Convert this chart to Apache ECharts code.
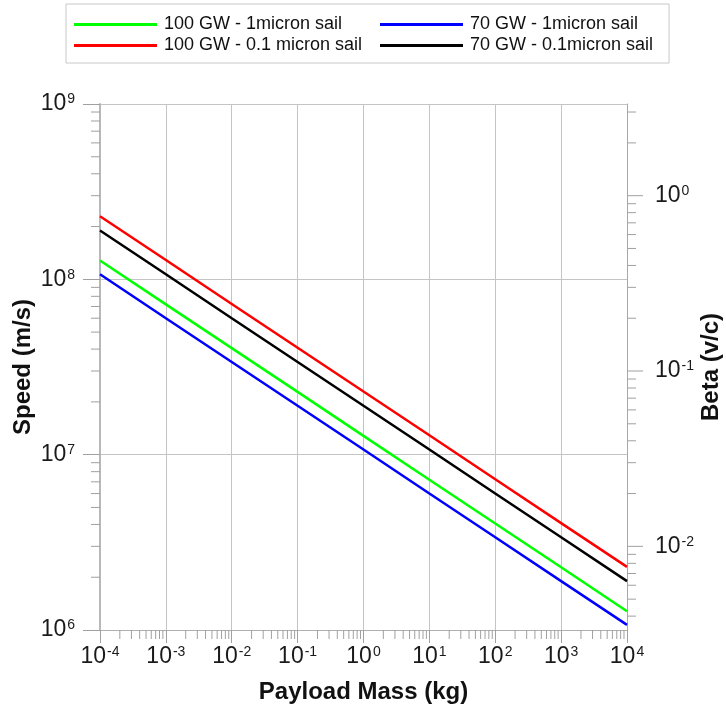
<!DOCTYPE html>
<html>
<head>
<meta charset="utf-8">
<script src="https://cdn.jsdelivr.net/npm/echarts@6/dist/echarts.min.js"></script>
<style>
  html, body { margin: 0; padding: 0; background: #ffffff; }
  #chart { width: 726px; height: 706px; }
</style>
</head>
<body>
<div id="chart"></div>
<script>
// Payload mass (kg), one point per decade
const payloadMass = [1e-4, 1e-3, 1e-2, 1e-1, 1e0, 1e1, 1e2, 1e3, 1e4];

// Final speed (m/s) for each beam power / sail thickness
const speed100GW1um  = [1.28e8, 7.2e7, 4.05e7, 2.28e7, 1.28e7, 7.2e6, 4.05e6, 2.28e6, 1.28e6];
const speed70GW1um   = [1.07e8, 6.0e7, 3.38e7, 1.9e7, 1.07e7, 6.0e6, 3.38e6, 1.9e6, 1.07e6];
const speed100GW01um = [2.29e8, 1.29e8, 7.24e7, 4.07e7, 2.29e7, 1.29e7, 7.24e6, 4.07e6, 2.29e6];
const speed70GW01um  = [1.9e8, 1.07e8, 6.0e7, 3.38e7, 1.9e7, 1.07e7, 6.0e6, 3.38e6, 1.9e6];

const seriesNames = [
  '100 GW - 1micron sail',
  '70 GW - 1micron sail',
  '100 GW - 0.1 micron sail',
  '70 GW - 0.1micron sail'
];
const seriesColors = ['#00ff00', '#0000ff', '#ff0000', '#000000'];

// Axis ranges and ticks
const speedMin = 1e6, speedMax = 1e9;
const massMin = 1e-4, massMax = 1e4;
const C_LIGHT = 3e8;
const betaMin = speedMin / C_LIGHT, betaMax = speedMax / C_LIGHT;
const betaMajorTicks = [1e-2, 1e-1, 1e0];

function decadeMinors(fromExp, toExp, lo, hi) {
  const out = [];
  for (let e = fromExp; e <= toExp; e++) {
    for (let m = 2; m <= 9; m++) {
      const v = m * Math.pow(10, e);
      if (v > lo && v < hi) out.push(v);
    }
  }
  return out;
}
const massMinorTicks = decadeMinors(-4, 3, massMin, massMax);
const speedMinorTicks = decadeMinors(6, 8, speedMin, speedMax);
const betaMinorTicks = decadeMinors(-3, 0, betaMin, betaMax);

// "10" with a superscript exponent
function powLabel(v) {
  const e = Math.round(Math.log10(v));
  if (Math.abs(Math.log10(v) - e) > 1e-6) return '';
  return '{b|10}{e|' + e + '}';
}
const FONT = 'Liberation Sans, Arial, sans-serif';
const powRich = {
  b: { fontSize: 23, lineHeight: 23, padding: [10, 0, 0, 0], verticalAlign: 'bottom', color: '#1a1a1a', fontFamily: FONT },
  e: { fontSize: 14, lineHeight: 15, verticalAlign: 'top', color: '#1a1a1a', fontFamily: FONT, padding: [0, 0, 0, 1] }
};

const nameStyle = { fontSize: 24, fontWeight: 'bold', color: '#111', fontFamily: FONT };
const gridLine = { show: true, lineStyle: { color: '#c4c4c4', width: 1 } };
const tickColor = '#a0a0a0';

function tickSeries(name, xIdx, yIdx, data, dir, majorTest) {
  return {
    type: 'custom',
    name: name,
    xAxisIndex: xIdx,
    yAxisIndex: yIdx,
    silent: true,
    clip: false,
    z: 1,
    data: data,
    renderItem: function (params, api) {
      const p = api.coord([api.value(0), api.value(1)]);
      const len = majorTest && majorTest(api.value(dir === 'right' ? 1 : 0)) ? 16 : 9;
      let x2 = p[0], y2 = p[1];
      if (dir === 'left') x2 = p[0] - len;
      if (dir === 'right') x2 = p[0] + len;
      if (dir === 'down') y2 = p[1] + len;
      return {
        type: 'line',
        shape: { x1: p[0], y1: p[1], x2: x2, y2: y2 },
        style: { stroke: tickColor, lineWidth: 1 }
      };
    }
  };
}

const lineSeries = [speed100GW1um, speed70GW1um, speed100GW01um, speed70GW01um].map(function (vals, i) {
  return {
    type: 'line',
    name: seriesNames[i],
    xAxisIndex: 0,
    yAxisIndex: 0,
    data: payloadMass.map(function (m, j) { return [m, vals[j]]; }),
    showSymbol: false,
    symbol: 'none',
    z: 3,
    lineStyle: { color: seriesColors[i], width: 2.5 },
    itemStyle: { color: seriesColors[i] }
  };
});

const chart = echarts.init(document.getElementById('chart'), null, { renderer: 'canvas' });
chart.setOption({
  animation: false,
  backgroundColor: '#ffffff',
  legend: {
    left: 66,
    top: 4,
    width: 610,
    padding: [10, 16, 7, 8],
    itemGap: 0,
    itemWidth: 83,
    itemHeight: 3,
    icon: 'rect',
    selectedMode: false,
    borderColor: '#c8c8c8',
    borderWidth: 1,
    textStyle: { fontSize: 18, lineHeight: 21, color: '#111', fontFamily: FONT, padding: [0, 0, 0, 2] },
    data: [
      { name: seriesNames[0], textStyle: { width: 216 } },
      { name: seriesNames[1] },
      { name: seriesNames[2], textStyle: { width: 216 } },
      { name: seriesNames[3] }
    ]
  },
  grid: { left: 100, right: 99, top: 104, bottom: 76, outerBoundsMode: 'none', containLabel: false },
  xAxis: [{
    type: 'log',
    logBase: 10,
    min: massMin,
    max: massMax,
    splitNumber: 8,
    name: 'Payload Mass (kg)',
    nameLocation: 'middle',
    nameGap: 50,
    nameMoveOverlap: false,
    nameTextStyle: nameStyle,
    axisLine: { show: true, lineStyle: { color: '#b0b0b0', width: 1 } },
    axisTick: { show: true, inside: false, length: 13, lineStyle: { color: tickColor } },
    axisLabel: { margin: 15, formatter: powLabel, rich: powRich },
    splitLine: gridLine,
    minorTick: { show: false },
    minorSplitLine: { show: false }
  }],
  yAxis: [{
    type: 'log',
    logBase: 10,
    min: speedMin,
    max: speedMax,
    splitNumber: 3,
    position: 'left',
    name: 'Speed (m/s)',
    nameLocation: 'middle',
    nameGap: 65,
    nameMoveOverlap: false,
    nameRotate: 90,
    nameTextStyle: nameStyle,
    axisLine: { show: true, lineStyle: { color: '#b8b8b8', width: 2 } },
    axisTick: { show: true, inside: false, length: 17, lineStyle: { color: tickColor } },
    axisLabel: { margin: 25, formatter: powLabel, rich: powRich },
    splitLine: gridLine
  }, {
    type: 'log',
    logBase: 10,
    min: betaMin,
    max: betaMax,
    position: 'right',
    name: 'Beta (v/c)',
    nameLocation: 'middle',
    nameGap: 72,
    nameMoveOverlap: false,
    nameRotate: 90,
    nameTextStyle: nameStyle,
    axisLine: { show: true, lineStyle: { color: '#a8a8a8', width: 1 } },
    axisTick: { show: false },
    axisLabel: { margin: 28, formatter: powLabel, rich: powRich, showMinLabel: false, showMaxLabel: false },
    splitLine: { show: false }
  }],
  series: lineSeries.concat([
    tickSeries('massMinor', 0, 0, massMinorTicks.map(function (v) { return [v, speedMin]; }), 'down'),
    tickSeries('speedMinor', 0, 0, speedMinorTicks.map(function (v) { return [massMin, v]; }), 'left'),
    tickSeries('betaTicks', 0, 1, betaMajorTicks.concat(betaMinorTicks).map(function (v) { return [massMax, v]; }), 'right',
      function (v) { return betaMajorTicks.some(function (t) { return Math.abs(t - v) / t < 1e-9; }); })
  ])
});
</script>
</body>
</html>
